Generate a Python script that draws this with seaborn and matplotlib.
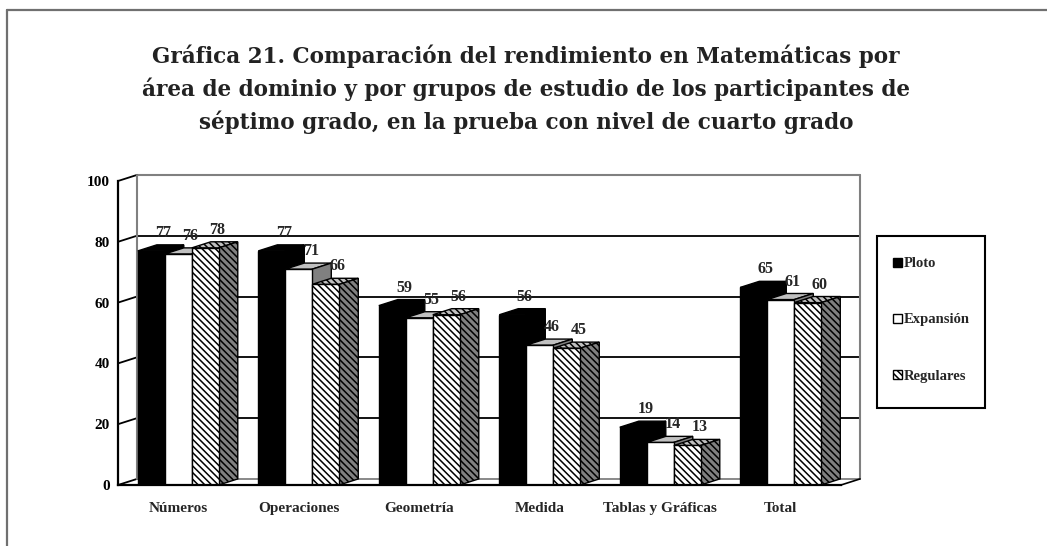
#%% LIBS
import numpy as np
import pandas as pd
import matplotlib.pyplot as plt
import seaborn as sns
from matplotlib.patches import Polygon, Patch, Rectangle
from matplotlib.lines import Line2D

#%% DATA
areas = ["Números", "Operaciones", "Geometría", "Medida", "Tablas y Gráficas", "Total"]
grupos = ["Ploto", "Expansión", "Regulares"]
ploto = [77, 77, 59, 56, 19, 65]
expansion = [76, 71, 55, 46, 14, 61]
regulares = [78, 66, 56, 45, 13, 60]
yticks = [0, 20, 40, 60, 80, 100]
titulo = ["Gráfica 21. Comparación del rendimiento en Matemáticas por",
          "área de dominio y por grupos de estudio de los participantes de",
          "séptimo grado, en la prueba con nivel de cuarto grado"]

df = pd.DataFrame({
    "Area": areas * 3,
    "Valor": ploto + expansion + regulares,
    "Grupo": [g for g in grupos for _ in areas],
})

#%% PLOTTING AES
sns.set_style("white")
plt.rcParams['font.family'] = ['Liberation Serif', 'DejaVu Serif']
plt.rcParams['font.weight'] = 'bold'
plt.rcParams['hatch.linewidth'] = 1.1
W, H = 1047, 546
DX, DY = 0.158, 2.0          # fake 3D depth (category units, value units)
GRAY = '#808080'
front_col = ['black', 'white', 'white']
top_col = ['black', '#c0c0c0', '#c0c0c0']
side_col = ['black', GRAY, GRAY]
HATCH = '\\' * 5
hatches = [None, None, HATCH]

fig = plt.figure(figsize=(W / 100, H / 100), dpi=100)
ax = fig.add_axes([118 / W, (H - 485) / H, (841 - 118) / W, (485 - 181) / H])

sns.barplot(data=df, x="Area", y="Valor", hue="Grupo", hue_order=grupos,
            palette=front_col, width=0.672, gap=0, edgecolor='black',
            linewidth=1.0, legend=False, ax=ax, zorder=3)
ax.set_xlim(-0.5, 5.5)
ax.set_ylim(0, 100)

#%% 3D FACES
for gi, cont in enumerate(ax.containers):
    for ci, bar in enumerate(cont.patches):
        x0, w, h = bar.get_x(), bar.get_width(), bar.get_height()
        z = 5 + ci * 10 + gi * 3
        top = Polygon([(x0, h), (x0 + DX, h + DY), (x0 + w + DX, h + DY), (x0 + w, h)],
                      facecolor=top_col[gi], edgecolor='black', lw=1.0,
                      hatch=hatches[gi], zorder=z, clip_on=False)
        side = Polygon([(x0 + w, 0), (x0 + w + DX, DY), (x0 + w + DX, h + DY), (x0 + w, h)],
                       facecolor=side_col[gi], edgecolor='black', lw=1.0,
                       hatch=hatches[gi], zorder=z, clip_on=False)
        ax.add_patch(top)
        ax.add_patch(side)
        bar.set_zorder(z + 1)
        if hatches[gi]:
            bar.set_hatch(hatches[gi])
        ax.text(x0 + w / 2 + 0.1, h + DY + 1.3, f"{h:.0f}", ha='center', va='bottom',
                fontsize=11.5, fontweight='bold', zorder=100, clip_on=False)

#%% WALLS / GRID
xl, xr = -0.5, 5.5
for v in yticks:
    col = GRAY if v in (0, 100) else 'black'
    ax.plot([xl + DX, xr + DX], [v + DY, v + DY], color=col,
            lw=1.5 if v == 100 else 1.3, zorder=1, clip_on=False)
    ax.plot([xl, xl + DX], [v, v + DY], color='black', lw=1.3, zorder=1, clip_on=False)
ax.plot([xl + DX, xl + DX], [DY, 100 + DY], color=GRAY, lw=1.5, zorder=1, clip_on=False)
ax.plot([xr + DX, xr + DX], [DY, 100 + DY], color=GRAY, lw=1.5, zorder=1, clip_on=False)
ax.plot([xr, xr + DX], [0, DY], color='black', lw=1.2, zorder=1, clip_on=False)

#%% AXES
sns.despine(ax=ax, top=True, right=True)
for s in ['left', 'bottom']:
    ax.spines[s].set_linewidth(1.6)
    ax.spines[s].set_color('black')
    ax.spines[s].set_zorder(200)
ax.set_yticks(yticks)
ax.set_yticklabels([str(v) for v in yticks], fontsize=11, fontweight='bold')
ax.tick_params(axis='y', direction='out', length=4.5, width=1.5, pad=1.5, colors='black')
ax.set_xticks(range(len(areas)))
ax.set_xticklabels(areas, fontsize=11, fontweight='bold')
ax.set_xticks(np.arange(-0.5, 6, 1), minor=True)
ax.tick_params(axis='x', which='major', length=0, pad=12)
ax.tick_params(axis='x', which='minor', direction='out', length=4.5, width=1.5)
ax.set_xlabel("")
ax.set_ylabel("")
ax.grid(False)

#%% LEGEND
fig.add_artist(Rectangle((877 / W, (H - 408) / H), 108 / W, 172 / H, transform=fig.transFigure,
                         facecolor='none', edgecolor='black', lw=1.5))
handles = [Patch(facecolor=front_col[i], edgecolor='black', hatch=hatches[i]) for i in range(3)]
fig.legend(handles, grupos, loc='center left', bbox_to_anchor=(880 / W, (H - 320) / H),
           frameon=False, handlelength=0.6, handleheight=0.6, handletextpad=0.1,
           labelspacing=2.95, prop={'family': 'Liberation Serif', 'weight': 'bold', 'size': 10.5})

#%% TITLE + PAGE FRAME
for i, line in enumerate(titulo):
    fig.text(526 / W, 1 - (63 + 33 * i) / H, line, ha='center', va='baseline',
             fontsize=15.5, fontweight='bold', color='#222222', family='DejaVu Serif')
fig.add_artist(Line2D([7 / W, 1], [1 - 10 / H, 1 - 10 / H], color='#707070', lw=1.6))
fig.add_artist(Line2D([7 / W, 7 / W], [0, 1 - 10 / H], color='#707070', lw=1.6))

fig.savefig("out.png", dpi=100)
